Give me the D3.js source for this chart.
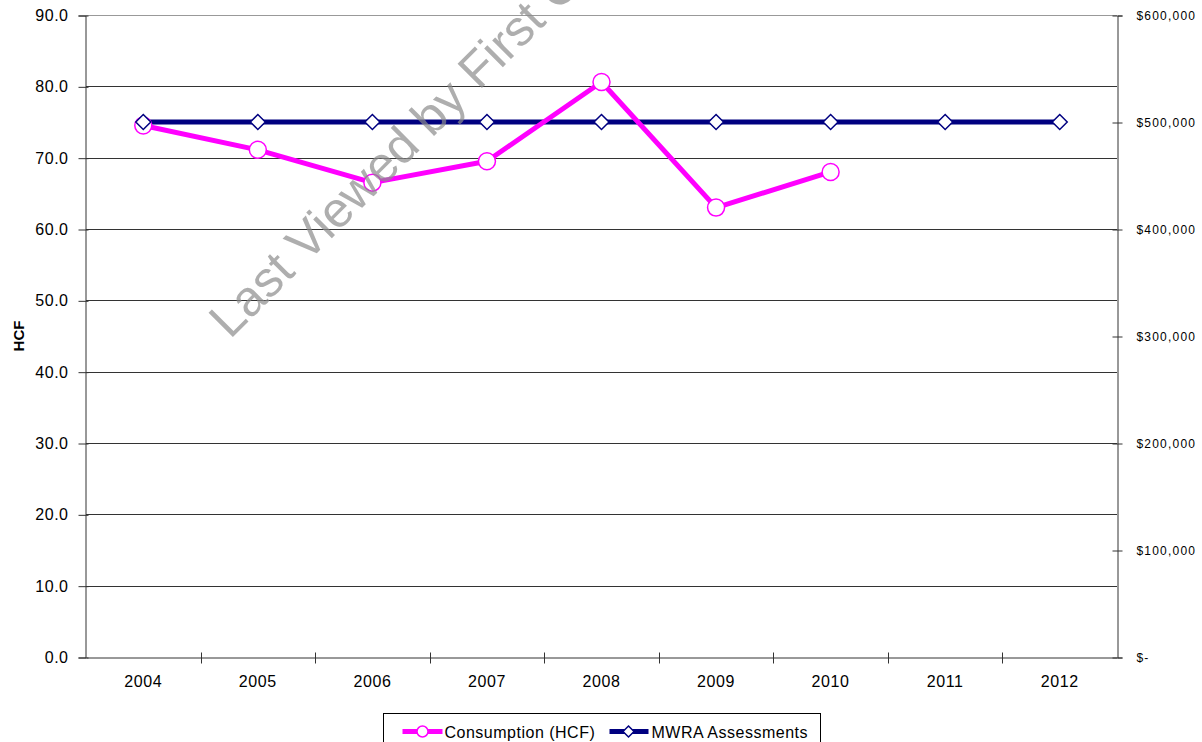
<!DOCTYPE html>
<html>
<head>
<meta charset="utf-8">
<script src="https://cdn.jsdelivr.net/npm/d3@7"></script>
<style>
  body { margin: 0; background: #fff; }
  svg { display: block; font-family: "Liberation Sans", Arial, sans-serif; }
</style>
</head>
<body>
<svg id="chart" width="1202" height="742"></svg>
<script>
// chart data
const years = ["2004", "2005", "2006", "2007", "2008", "2009", "2010", "2011", "2012"];
const consumption = [74.5, 71.1, 66.5, 69.5, 80.6, 63.0, 68.0];
const assessments = [500000, 500000, 500000, 500000, 500000, 500000, 500000, 500000, 500000];
const leftTicks = [0, 10, 20, 30, 40, 50, 60, 70, 80, 90];
const rightTicks = [0, 100000, 200000, 300000, 400000, 500000, 600000];

const plotLeft = 86, plotRight = 1117, plotTop = 15, plotBottom = 657;

const svg = d3.select("#chart");

let x = d3.scaleBand().domain(years).range([plotLeft, plotRight]);
let y = d3.scaleLinear().domain([0, 90]).range([plotBottom, plotTop]);
let y2 = d3.scaleLinear().domain([0, 600000]).range([plotBottom, plotTop]);

// gridlines
svg.append("g")
  .selectAll("line")
  .data(leftTicks.filter(d => d > 0))
  .enter()
  .append("line")
  .attr("x1", plotLeft).attr("x2", plotRight)
  .attr("y1", d => Math.round(y(d)) + 0.5)
  .attr("y2", d => Math.round(y(d)) + 0.5)
  .attr("stroke", d => d === 90 ? "#999" : "#333")
  .attr("stroke-width", 1);

// left axis
let gl = svg.append("g")
  .attr("transform", "translate(" + (plotLeft - 0.5) + ",0.5)")
  .call(d3.axisLeft(y).tickValues(leftTicks).tickFormat(d3.format(".1f")).tickSize(7).tickPadding(10));
gl.select(".domain").attr("stroke", "#333");
gl.selectAll(".tick line").attr("x2", -7).attr("x1", 3).attr("stroke", "#333");
gl.selectAll(".tick text").attr("font-size", 16).attr("letter-spacing", 0.5).attr("fill", "#000");
gl.attr("font-family", null);

// right axis
let gr = svg.append("g")
  .attr("transform", "translate(" + (plotRight + 0.5) + ",0.5)")
  .call(d3.axisRight(y2).tickValues(rightTicks)
    .tickFormat(d => d === 0 ? "$-" : "$" + d3.format(",")(d)).tickSize(5).tickPadding(14));
gr.select(".domain").attr("stroke", "#333");
gr.selectAll(".tick line").attr("x1", -5).attr("stroke", "#333");
gr.selectAll(".tick text").attr("font-size", 12).attr("letter-spacing", 1.2).attr("fill", "#000");
gr.attr("font-family", null);

// bottom axis
let gb = svg.append("g")
  .attr("transform", "translate(0," + (plotBottom + 0.5) + ")")
  .call(d3.axisBottom(x).tickSize(0).tickPadding(18));
gb.select(".domain").attr("stroke", "#333");
gb.selectAll(".tick text").attr("font-size", 16).attr("letter-spacing", 0.6).attr("fill", "#000");
gb.attr("font-family", null);
// ticks between categories
gb.selectAll(".sep")
  .data(years.slice(1))
  .enter()
  .append("line")
  .attr("x1", d => Math.round(x(d)) + 0.5)
  .attr("x2", d => Math.round(x(d)) + 0.5)
  .attr("y1", -5).attr("y2", 6)
  .attr("stroke", "#333");

// y title
svg.append("text")
  .attr("transform", "translate(24," + y(45) + ") rotate(-90)")
  .attr("text-anchor", "middle")
  .attr("font-size", 15)
  .attr("font-weight", "bold")
  .text("HCF");

let cx = d => x(d) + x.bandwidth() / 2;

let consData = consumption.map((v, i) => ({ year: years[i], v: v }));
let assData = assessments.map((v, i) => ({ year: years[i], v: v }));

// lines
svg.append("path")
  .datum(assData)
  .attr("fill", "none")
  .attr("stroke", "#000080")
  .attr("stroke-width", 5)
  .attr("d", d3.line().x(d => cx(d.year)).y(d => y2(d.v)));

svg.append("path")
  .datum(consData)
  .attr("fill", "none")
  .attr("stroke", "#ff00ff")
  .attr("stroke-width", 5)
  .attr("stroke-linejoin", "round")
  .attr("d", d3.line().x(d => cx(d.year)).y(d => y(d.v)));

// markers
svg.append("g")
  .selectAll("circle")
  .data(consData)
  .enter()
  .append("circle")
  .attr("cx", d => cx(d.year))
  .attr("cy", d => y(d.v))
  .attr("r", 8.5)
  .attr("fill", "#fff")
  .attr("stroke", "#ff00ff")
  .attr("stroke-width", 1.5);

svg.append("g")
  .selectAll("path")
  .data(assData)
  .enter()
  .append("path")
  .attr("transform", d => "translate(" + cx(d.year) + "," + y2(d.v) + ")")
  .attr("d", "M0,-7.5L7.5,0L0,7.5L-7.5,0Z")
  .attr("fill", "#fff")
  .attr("stroke", "#000080")
  .attr("stroke-width", 1.5);

// watermark
svg.append("text")
  .attr("transform", "translate(230,340) rotate(-45)")
  .attr("font-size", 50)
  .attr("fill", "#8c8c8c")
  .attr("fill-opacity", 0.7)
  .text("Last Viewed by First Class");

// legend
let lg = svg.append("g").attr("transform", "translate(383.5,713.5)");
lg.append("rect")
  .attr("width", 437).attr("height", 40)
  .attr("fill", "#fff").attr("stroke", "#000");
lg.append("line").attr("x1", 19).attr("x2", 59).attr("y1", 18).attr("y2", 18)
  .attr("stroke", "#ff00ff").attr("stroke-width", 5);
lg.append("circle").attr("cx", 39).attr("cy", 18).attr("r", 5.5)
  .attr("fill", "#fff").attr("stroke", "#ff00ff").attr("stroke-width", 1.5);
lg.append("text").attr("x", 61).attr("y", 24).attr("font-size", 16).attr("letter-spacing", 0.5).text("Consumption (HCF)");
lg.append("line").attr("x1", 226).attr("x2", 265).attr("y1", 18).attr("y2", 18)
  .attr("stroke", "#000080").attr("stroke-width", 5);
lg.append("path").attr("transform", "translate(245,18)").attr("d", "M0,-5.5L5.5,0L0,5.5L-5.5,0Z")
  .attr("fill", "#fff").attr("stroke", "#000080").attr("stroke-width", 1.5);
lg.append("text").attr("x", 268).attr("y", 24).attr("font-size", 16).attr("letter-spacing", 0.5).text("MWRA Assessments");
</script>
</body>
</html>
